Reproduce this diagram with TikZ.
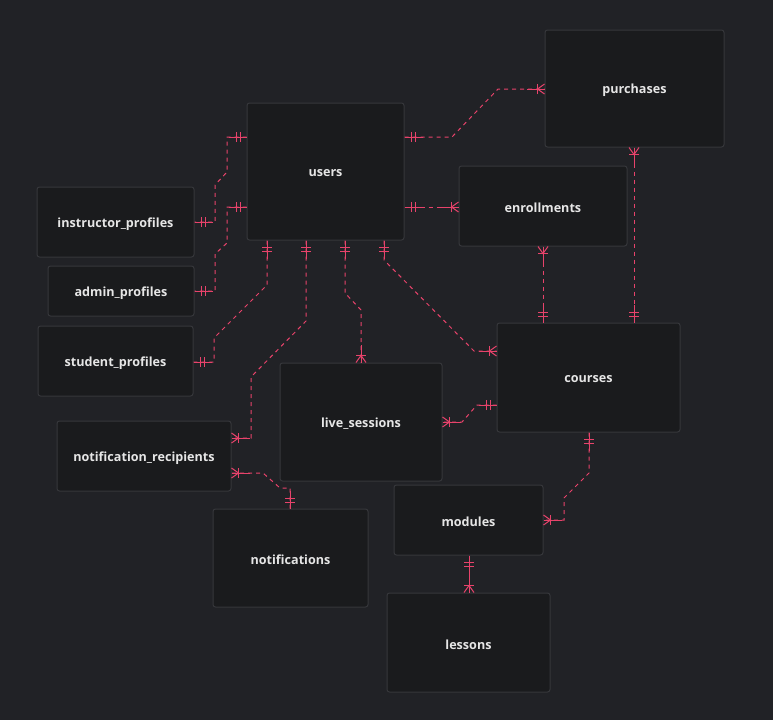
\documentclass[tikz,border=0pt]{standalone}
\usepackage{fontspec}
\setmainfont{Open Sans}
\usetikzlibrary{calc}
\definecolor{bg}{HTML}{212226}
\definecolor{boxfill}{HTML}{1A1B1D}
\definecolor{boxline}{HTML}{36373B}
\definecolor{edgec}{HTML}{E8436B}
\definecolor{txt}{HTML}{E6E6E6}
\tikzset{
 ent/.style={draw=boxline, fill=boxfill, line width=1pt, rounded corners=2.5pt, inner sep=0pt,
   font=\bfseries\fontsize{12.6}{15}\selectfont, text=txt},
 lbl/.style={font=\bfseries\fontsize{12.6}{15}\selectfont, text=txt, inner sep=0pt},
 rel/.style={draw=edgec, line width=1pt, dash pattern=on 4pt off 4pt},
 mk/.style={draw=edgec, line width=1pt, solid},
}
\newcommand\onemark[2]{%
 \draw[mk] (#1) -- ($(#1)!18pt!(#2)$);
 \path ($(#1)!6.5pt!(#2)$) coordinate (mka) ($(#1)!10.5pt!(#2)$) coordinate (mkb);
 \draw[mk] ($(mka)!5pt!90:(#2)$) -- ($(mka)!5pt!-90:(#2)$);
 \draw[mk] ($(mkb)!5pt!90:(#2)$) -- ($(mkb)!5pt!-90:(#2)$);
}
\newcommand\manymark[2]{%
 \draw[mk] (#1) -- ($(#1)!18pt!(#2)$);
 \path ($(#1)!7pt!(#2)$) coordinate (mkc);
 \draw[mk] ($(#1)!5pt!90:(#2)$) -- (mkc) -- ($(#1)!5pt!-90:(#2)$);
 \draw[mk] ($(mkc)!5pt!90:(#2)$) -- ($(mkc)!5pt!-90:(#2)$);
}
\begin{document}
\begin{tikzpicture}[x=1pt,y=-1pt]
\fill[bg] (0,0) rectangle (773,720);
\useasboundingbox (0,0) rectangle (773,720);

\node[ent, minimum width=157pt, minimum height=137pt] (users) at (325.5,171.5) {};
\node[ent, minimum width=179pt, minimum height=117pt] (purchases) at (634.5,88.5) {};
\node[ent, minimum width=168pt, minimum height=80pt] (enrollments) at (543,206) {};
\node[ent, minimum width=157pt, minimum height=70pt] (instructor) at (115.5,222) {};
\node[ent, minimum width=146pt, minimum height=50pt] (admin) at (121,291) {};
\node[ent, minimum width=155pt, minimum height=70pt] (student) at (115.5,361) {};
\node[ent, minimum width=183pt, minimum height=109pt] (courses) at (588.5,377.5) {};
\node[ent, minimum width=162pt, minimum height=118pt] (live) at (361,422) {};
\node[ent, minimum width=174pt, minimum height=70pt] (recip) at (144,456) {};
\node[ent, minimum width=155pt, minimum height=98pt] (notif) at (290.5,558) {};
\node[ent, minimum width=149pt, minimum height=70pt] (modules) at (468.5,520) {};
\node[ent, minimum width=163pt, minimum height=99pt] (lessons) at (468.5,642.5) {};

\node[lbl, yshift=-2pt] (tusers) at (users) {users};
\node[lbl, yshift=-2pt] (tpurchases) at (purchases) {purchases};
\node[lbl, yshift=-2pt] (tenrollments) at (enrollments) {enrollments};
\node[lbl, yshift=-2pt] (tinstructor) at (instructor) {instructor\_profiles};
\node[lbl, yshift=-2pt] (tadmin) at (admin) {admin\_profiles};
\node[lbl, yshift=-2pt] (tstudent) at (student) {student\_profiles};
\node[lbl, yshift=-2pt] (tcourses) at (courses) {courses};
\node[lbl, yshift=-2pt] (tlive) at (live) {live\_sessions};
\node[lbl, yshift=-2pt] (trecip) at (recip) {notification\_recipients};
\node[lbl, yshift=-2pt] (tnotif) at (notif) {notifications};
\node[lbl, yshift=-2pt] (tmodules) at (modules) {modules};
\node[lbl, yshift=-2pt] (tlessons) at (lessons) {lessons};

% border points
\coordinate (a1) at (users.west |- 0,137);  \coordinate (b1) at (instructor.east |- 0,222);
\coordinate (a2) at (users.west |- 0,207);  \coordinate (b2) at (admin.east |- 0,291);
\coordinate (a3) at (users.south -| 267,0); \coordinate (b3) at (student.east |- 0,362);
\coordinate (a4) at (users.south -| 306,0); \coordinate (b4) at (recip.east |- 0,438);
\coordinate (a5) at (users.south -| 345,0); \coordinate (b5) at (live.north -| 361,0);
\coordinate (a6) at (users.south -| 384,0); \coordinate (b6) at (courses.west |- 0,351);
\coordinate (a7) at (users.east |- 0,137);  \coordinate (b7) at (purchases.west |- 0,89);
\coordinate (a8) at (users.east |- 0,207);  \coordinate (b8) at (enrollments.west |- 0,207);
\coordinate (a9) at (enrollments.south -| 543,0); \coordinate (b9) at (courses.north -| 543,0);
\coordinate (a10) at (purchases.south -| 634,0); \coordinate (b10) at (courses.north -| 634,0);
\coordinate (a11) at (courses.west |- 0,405); \coordinate (b11) at (live.east |- 0,422);
\coordinate (a12) at (notif.north -| 290,0); \coordinate (b12) at (recip.east |- 0,473);
\coordinate (a13) at (courses.south -| 589,0); \coordinate (b13) at (modules.east |- 0,520);
\coordinate (a14) at (modules.south -| 469,0); \coordinate (b14) at (lessons.north -| 469,0);

% routes
\draw[rel] (a1) -- (227,137) -- (227,172) -- (215,185) -- (215,222) -- (b1);
\draw[rel] (a2) -- (227,207) -- (227,243) -- (215,254) -- (215,291) -- (b2);
\draw[rel] (a3) -- (267,285) -- (214,338) -- (214,362) -- (b3);
\draw[rel] (a4) -- (306,321) -- (251,377) -- (251,438) -- (b4);
\draw[rel] (a5) -- (345,293) -- (361,310) -- (b5);
\draw[rel] (a6) -- (384,260) -- (474,351) -- (b6);
\draw[rel] (a7) -- (452,137) -- (498,89) -- (b7);
\draw[rel] (a8) -- (b8);
\draw[rel] (a9) -- (b9);
\draw[rel] (a10) -- (b10);
\draw[rel] (a11) -- (477,405) -- (462,422) -- (b11);
\draw[rel] (a12) -- (290,488) -- (280,488) -- (263,473) -- (b12);
\draw[rel] (a13) -- (589,473) -- (564,498) -- (564,520) -- (b13);
\draw[rel] (a14) -- (b14);

% markers
\onemark{a1}{227,137} \onemark{b1}{215,222}
\onemark{a2}{227,207} \onemark{b2}{215,291}
\onemark{a3}{267,285} \onemark{b3}{214,362}
\onemark{a4}{306,321} \manymark{b4}{251,438}
\onemark{a5}{345,293} \manymark{b5}{361,310}
\onemark{a6}{384,260} \manymark{b6}{474,351}
\onemark{a7}{452,137} \manymark{b7}{498,89}
\onemark{a8}{b8} \manymark{b8}{a8}
\manymark{a9}{b9} \onemark{b9}{a9}
\manymark{a10}{b10} \onemark{b10}{a10}
\onemark{a11}{477,405} \manymark{b11}{462,422}
\onemark{a12}{290,488} \manymark{b12}{263,473}
\onemark{a13}{589,473} \manymark{b13}{564,520}
\onemark{a14}{b14} \manymark{b14}{a14}
\end{tikzpicture}
\end{document}
